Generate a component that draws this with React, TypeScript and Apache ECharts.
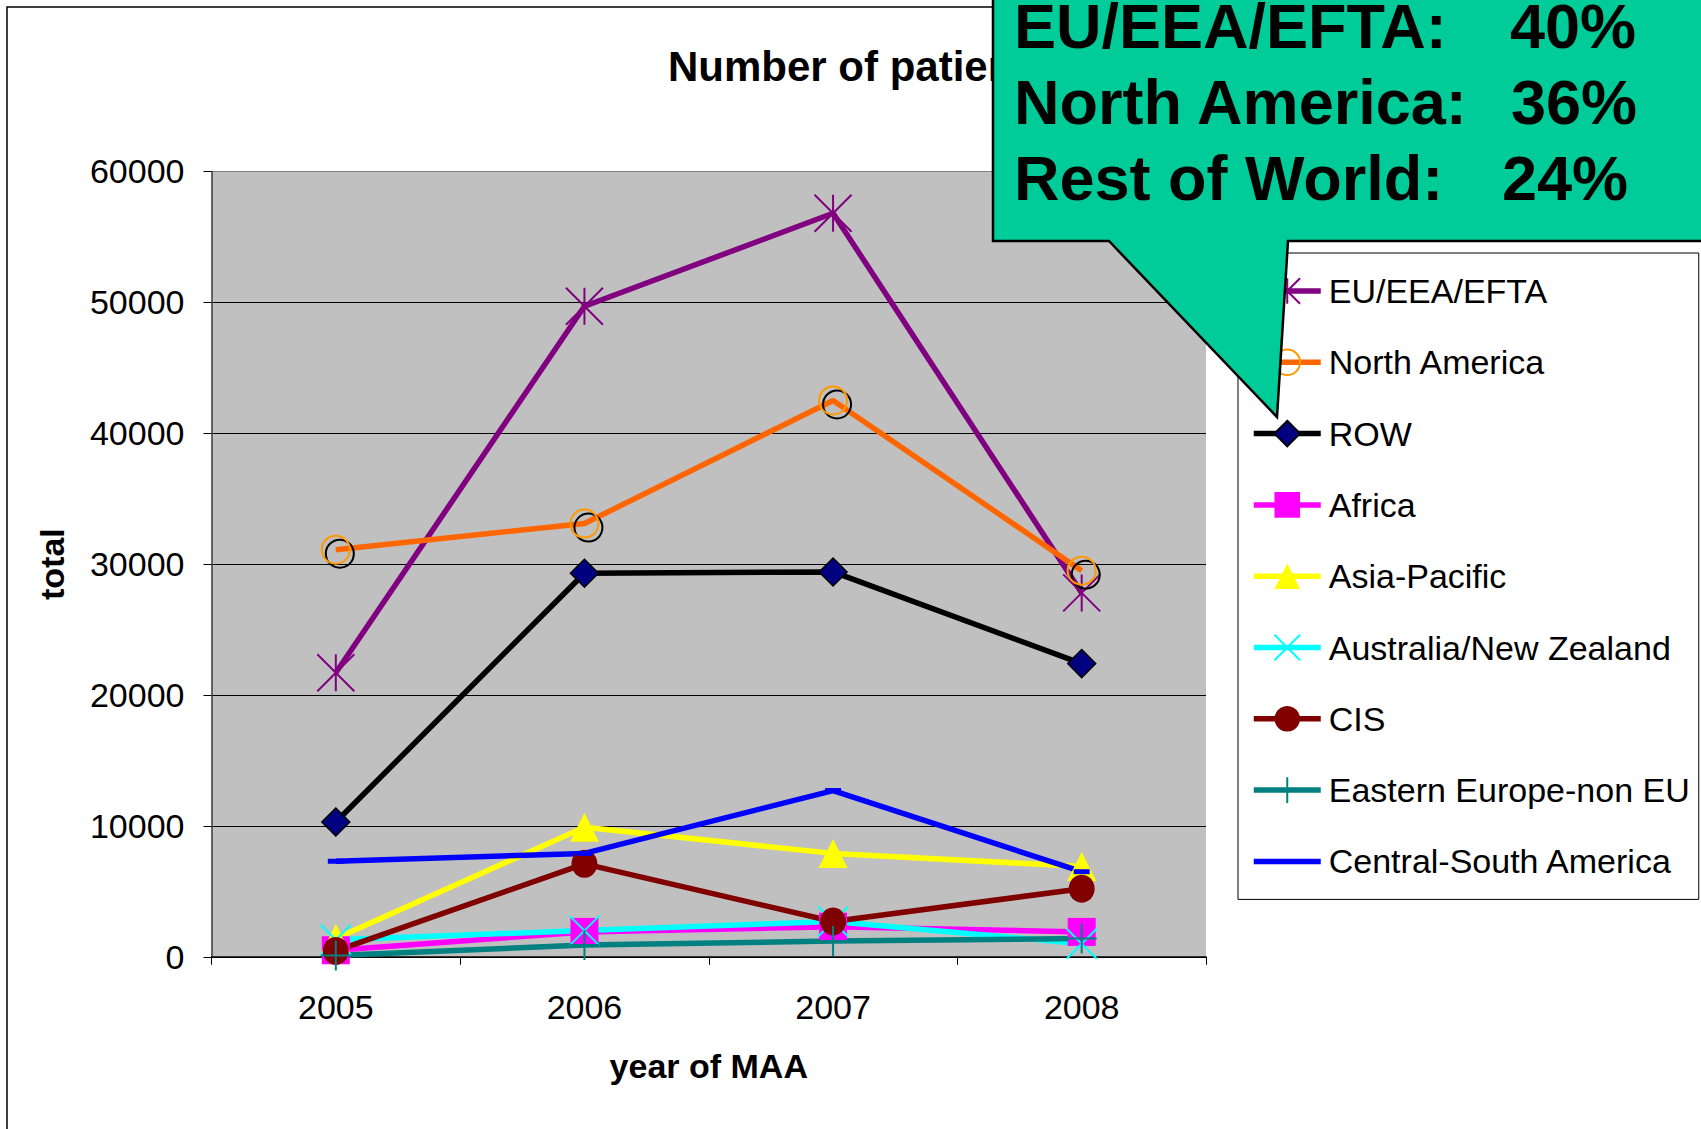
import React, { useEffect, useRef } from "react";
import * as echarts from "echarts";

const FONT = "'Liberation Sans', Arial, sans-serif";

const categories = ["2005", "2006", "2007", "2008"];
const seriesNames = [
  "EU/EEA/EFTA",
  "North America",
  "ROW",
  "Africa",
  "Asia-Pacific",
  "Australia/New Zealand",
  "CIS",
  "Eastern Europe-non EU",
  "Central-South America",
];
const euEeaEfta = [21700, 49700, 56800, 27800];
const northAmerica = [31100, 33100, 42500, 29500];
const restOfWorld = [10300, 29300, 29400, 22400];
const africa = [500, 1900, 2300, 1900];
const asiaPacific = [1400, 9900, 7900, 6900];
const australiaNz = [1300, 2000, 2700, 1000];
const cis = [450, 7100, 2700, 5200];
const easternEurope = [100, 900, 1200, 1400];
const centralSouthAmerica = [7300, 7900, 12700, 6500];
const yTicks = { min: 0, max: 60000, interval: 10000 };

const calloutLabels = ["EU/EEA/EFTA:", "North America:", "Rest of World:"];
const calloutShares = ["40%", "36%", "24%"];

const STAR = "path://M0,0L10,10M10,0L0,10M5,0L5,10";
const XMARK = "path://M0,0L10,10M10,0L0,10";
const PLUS = "path://M5,0L5,10M0,5L10,5";
const RING = "path://M10,5A5,5,0,1,1,0,5A5,5,0,1,1,10,5Z";
const DASH = "path://M0,0L16,0L16,5L0,5Z";
const NONE = "rgba(0,0,0,0)";
const LW = 5.5;

export default function App() {
  const ref = useRef<HTMLDivElement>(null);

  useEffect(() => {
    if (!ref.current) return;
    const chart = echarts.init(ref.current, undefined, { renderer: "svg" });

    const line = (
      name: string,
      data: number[],
      lineColor: string,
      symbol: string,
      symbolSize: any,
      itemStyle: any
    ) => ({
      name,
      type: "line",
      data,
      symbol,
      symbolSize,
      showAllSymbol: true,
      lineStyle: { color: lineColor, width: LW },
      itemStyle,
      emphasis: { disabled: true },
    });

    const series: any[] = [
      line("EU/EEA/EFTA", euEeaEfta, "#800080", STAR, 37, {
        color: "#800080",
        borderColor: "#800080",
        borderWidth: 2,
      }),
      {
        name: "NA-shadow",
        type: "line",
        data: northAmerica,
        symbol: RING,
        symbolSize: 28,
        symbolOffset: [4, 4],
        lineStyle: { width: 0, opacity: 0 },
        itemStyle: { color: NONE, borderColor: "#000", borderWidth: 2 },
        silent: true,
        emphasis: { disabled: true },
      },
      line("North America", northAmerica, "#FF6600", RING, 28, {
        color: NONE,
        borderColor: "#FF9900",
        borderWidth: 2,
      }),
      line("ROW", restOfWorld, "#000000", "diamond", [28, 28], {
        color: "#000080",
        borderColor: "#000",
        borderWidth: 1.5,
      }),
      line("Africa", africa, "#FF00FF", "rect", 28, { color: "#FF00FF" }),
      line("Asia-Pacific", asiaPacific, "#FFFF00", "triangle", 29, {
        color: "#FFFF00",
      }),
      line("Australia/New Zealand", australiaNz, "#00FFFF", XMARK, 30, {
        color: "#00FFFF",
        borderColor: "#00FFFF",
        borderWidth: 2,
      }),
      line("CIS", cis, "#800000", "circle", [26, 28], { color: "#800000" }),
      line("Eastern Europe-non EU", easternEurope, "#008080", PLUS, 30, {
        color: "#008080",
        borderColor: "#008080",
        borderWidth: 2,
      }),
      line("Central-South America", centralSouthAmerica, "#0000FF", DASH, [16, 5], {
        color: "#0000FF",
      }),
    ];

    const graphics: any[] = [
      {
        type: "rect",
        z: -10,
        shape: { x: 7, y: 7, width: 1800, height: 1300 },
        style: { fill: "none", stroke: "#000", lineWidth: 1.5 },
        silent: true,
      },
      {
        type: "polygon",
        z: 100,
        shape: {
          points: [
            [993, -10],
            [1720, -10],
            [1720, 241],
            [1288, 241],
            [1277, 417],
            [1109, 241],
            [993, 241],
          ],
        },
        style: { fill: "#00CC99", stroke: "#000", lineWidth: 2.5 },
        silent: true,
      },
    ];
    const rowsY = [26, 102, 178];
    const shareX = [1510, 1511, 1502];
    calloutLabels.forEach((t, i) => {
      graphics.push({
        type: "text",
        z: 101,
        x: 1014,
        y: rowsY[i],
        style: {
          text: t,
          font: `bold 63px ${FONT}`,
          fill: "#000",
          textAlign: "left",
          textVerticalAlign: "middle",
        },
        silent: true,
      });
      graphics.push({
        type: "text",
        z: 101,
        x: shareX[i],
        y: rowsY[i],
        style: {
          text: calloutShares[i],
          font: `bold 63px ${FONT}`,
          fill: "#000",
          textAlign: "left",
          textVerticalAlign: "middle",
        },
        silent: true,
      });
    });

    chart.setOption({
      animation: false,
      backgroundColor: "#ffffff",
      title: {
        text: "Number of patients per region",
        left: 663,
        top: 40,
        textStyle: { fontSize: 42, fontWeight: "bold", color: "#000", fontFamily: FONT },
      },
      grid: {
        left: 211.5,
        right: 495,
        top: 171.4,
        bottom: 172.2,
        show: true,
        backgroundColor: "#C0C0C0",
        borderWidth: 0,
      },
      legend: {
        orient: "vertical",
        left: 1238,
        top: 253,
        data: seriesNames.map((n) =>
          n === "Central-South America"
            ? { name: n, itemStyle: { color: NONE, borderWidth: 0 } }
            : { name: n }
        ),
        itemWidth: 67,
        itemHeight: 32,
        itemGap: 37.3,
        padding: [21, 9, 21, 13],
        backgroundColor: "#fff",
        borderColor: "#000",
        borderWidth: 1,
        selectedMode: false,
        lineStyle: { width: LW },
        textStyle: { fontSize: 34, color: "#000", fontFamily: FONT, padding: [0, 0, 0, 3] },
      },
      xAxis: {
        type: "category",
        data: categories,
        boundaryGap: true,
        name: "year of MAA",
        nameLocation: "middle",
        nameGap: 92,
        nameTextStyle: { fontSize: 34, fontWeight: "bold", color: "#000", fontFamily: FONT },
        axisLine: { show: true, lineStyle: { color: "#000", width: 1.5 } },
        axisTick: { show: true, length: 8, interval: 0, lineStyle: { color: "#000" } },
        axisLabel: { margin: 33, fontSize: 34, color: "#000", fontFamily: FONT },
        splitLine: { show: false },
      },
      yAxis: {
        type: "value",
        min: yTicks.min,
        max: yTicks.max,
        interval: yTicks.interval,
        name: "total",
        nameLocation: "middle",
        nameGap: 143,
        nameTextStyle: { fontSize: 34, fontWeight: "bold", color: "#000", fontFamily: FONT },
        axisLine: { show: true, lineStyle: { color: "#404040", width: 1.5 } },
        axisTick: { show: true, length: 8, lineStyle: { color: "#000" } },
        axisLabel: {
          margin: 27,
          fontSize: 34,
          color: "#000",
          fontFamily: FONT,
          formatter: (v: number) => String(v),
        },
        splitLine: {
          show: true,
          lineStyle: {
            color: ["#000", "#000", "#000", "#000", "#000", "#000", "#808080"],
            width: 1,
          },
        },
      },
      series,
      graphic: graphics,
    });

    return () => chart.dispose();
  }, []);

  return (
    <div
      ref={ref}
      style={{
        position: "fixed",
        left: 0,
        top: 0,
        width: 1701,
        height: 1129,
        background: "#fff",
      }}
    />
  );
}
